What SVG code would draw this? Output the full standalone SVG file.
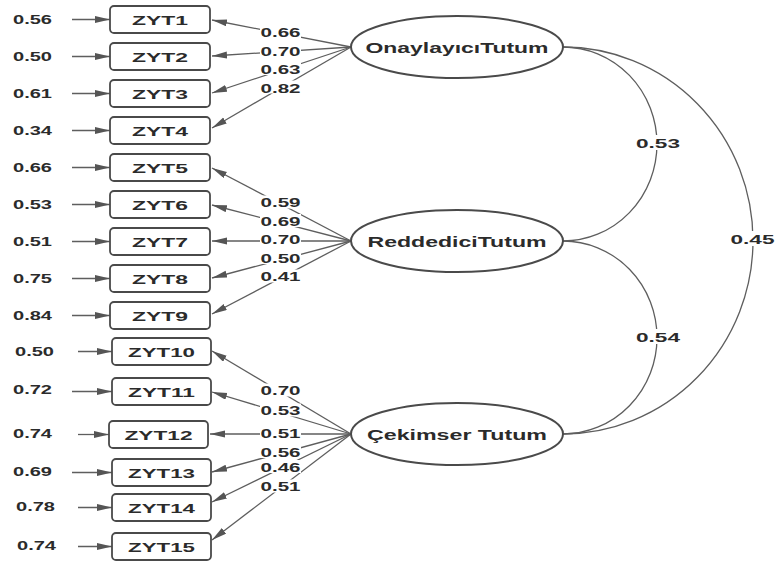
<svg xmlns="http://www.w3.org/2000/svg" width="775" height="562" viewBox="0 0 775 562">
<style>
  text { font-family: "Liberation Sans", Arial, sans-serif; font-weight: bold; fill: #2b2b2b; }
  .num { font-size: 13.5px; }
  .box { fill: #fff; stroke: #4a4a4a; stroke-width: 1.8; }
  .box-t { font-size: 13.5px; text-anchor: middle; }
  .lat { fill: #fff; stroke: #4a4a4a; stroke-width: 2; }
  .lat-t { font-size: 15.5px; text-anchor: middle; }
  .ln { stroke: #5e5e5e; stroke-width: 1.3; fill: none; }
  .arr { marker-end: url(#ah); }
  .bg { fill: #fff; }
  .lbl { font-size: 13.5px; text-anchor: middle; }
</style>
<defs>
  <marker id="ah" markerUnits="userSpaceOnUse" markerWidth="15" markerHeight="8" refX="15" refY="3.5" orient="auto">
    <path d="M0,0 L15,3.5 L0,7 z" fill="#555"/>
  </marker>
</defs>
<rect width="775" height="562" fill="#fff"/>

<g id="connectors">
  <line class="ln arr" x1="72" y1="19.5" x2="110" y2="19.5"/>
  <line class="ln arr" x1="72" y1="56.5" x2="110" y2="56.5"/>
  <line class="ln arr" x1="72" y1="93.5" x2="110" y2="93.5"/>
  <line class="ln arr" x1="72" y1="130.5" x2="110" y2="130.5"/>
  <line class="ln arr" x1="72" y1="167.5" x2="110" y2="167.5"/>
  <line class="ln arr" x1="72" y1="204.5" x2="110" y2="204.5"/>
  <line class="ln arr" x1="72" y1="241.5" x2="110" y2="241.5"/>
  <line class="ln arr" x1="72" y1="278.5" x2="110" y2="278.5"/>
  <line class="ln arr" x1="72" y1="315.5" x2="110" y2="315.5"/>
  <line class="ln arr" x1="78" y1="351.5" x2="112" y2="351.5"/>
  <line class="ln arr" x1="72" y1="391.5" x2="112" y2="391.5"/>
  <line class="ln arr" x1="78" y1="434.5" x2="109" y2="434.5"/>
  <line class="ln arr" x1="72" y1="472.5" x2="112" y2="472.5"/>
  <line class="ln arr" x1="78" y1="507.5" x2="112" y2="507.5"/>
  <line class="ln arr" x1="78" y1="546.5" x2="112" y2="546.5"/>

  <line class="ln arr" x1="351" y1="47" x2="212" y2="20"/>
  <line class="ln arr" x1="351" y1="47" x2="212" y2="56"/>
  <line class="ln arr" x1="351" y1="47" x2="212" y2="93"/>
  <line class="ln arr" x1="351" y1="47" x2="212" y2="128"/>
  <line class="ln arr" x1="351" y1="241" x2="212" y2="168"/>
  <line class="ln arr" x1="351" y1="241" x2="212" y2="205"/>
  <line class="ln arr" x1="351" y1="241" x2="212" y2="241"/>
  <line class="ln arr" x1="351" y1="241" x2="212" y2="278"/>
  <line class="ln arr" x1="351" y1="241" x2="212" y2="314"/>
  <line class="ln arr" x1="351" y1="434" x2="212" y2="351"/>
  <line class="ln arr" x1="351" y1="434" x2="212" y2="392"/>
  <line class="ln arr" x1="351" y1="434" x2="210" y2="434"/>
  <line class="ln arr" x1="351" y1="434" x2="212" y2="472"/>
  <line class="ln arr" x1="351" y1="434" x2="212" y2="502"/>
  <line class="ln arr" x1="351" y1="434" x2="212" y2="540"/>

  <path class="ln" d="M563,47 A94,97 0 0 1 563,241"/>
  <path class="ln" d="M563,241 A94,96.5 0 0 1 563,434"/>
  <path class="ln" d="M563,47 A190,193.5 0 0 1 563,434"/>

  <g>
    <rect class="bg" x="260" y="25" width="41" height="13"/><text class="lbl" x="280.5" y="37" textLength="40" lengthAdjust="spacingAndGlyphs">0.66</text>
    <rect class="bg" x="260" y="43.5" width="41" height="13"/><text class="lbl" x="280.5" y="55.5" textLength="40" lengthAdjust="spacingAndGlyphs">0.70</text>
    <rect class="bg" x="260" y="62" width="41" height="13"/><text class="lbl" x="280.5" y="74" textLength="40" lengthAdjust="spacingAndGlyphs">0.63</text>
    <rect class="bg" x="260" y="80.5" width="41" height="13"/><text class="lbl" x="280.5" y="92.5" textLength="40" lengthAdjust="spacingAndGlyphs">0.82</text>

    <rect class="bg" x="260" y="195.5" width="41" height="13"/><text class="lbl" x="280.5" y="207" textLength="40" lengthAdjust="spacingAndGlyphs">0.59</text>
    <rect class="bg" x="260" y="214" width="41" height="13"/><text class="lbl" x="280.5" y="225.5" textLength="40" lengthAdjust="spacingAndGlyphs">0.69</text>
    <rect class="bg" x="260" y="232.5" width="41" height="13"/><text class="lbl" x="280.5" y="244" textLength="40" lengthAdjust="spacingAndGlyphs">0.70</text>
    <rect class="bg" x="260" y="251" width="41" height="13"/><text class="lbl" x="280.5" y="262.5" textLength="40" lengthAdjust="spacingAndGlyphs">0.50</text>
    <rect class="bg" x="260" y="269.5" width="41" height="13"/><text class="lbl" x="280.5" y="281" textLength="40" lengthAdjust="spacingAndGlyphs">0.41</text>

    <rect class="bg" x="260" y="383.5" width="41" height="13"/><text class="lbl" x="280.5" y="395" textLength="40" lengthAdjust="spacingAndGlyphs">0.70</text>
    <rect class="bg" x="260" y="403.5" width="41" height="13"/><text class="lbl" x="280.5" y="415" textLength="40" lengthAdjust="spacingAndGlyphs">0.53</text>
    <rect class="bg" x="260" y="426" width="41" height="13"/><text class="lbl" x="280.5" y="437.5" textLength="40" lengthAdjust="spacingAndGlyphs">0.51</text>
    <rect class="bg" x="260" y="445" width="41" height="13"/><text class="lbl" x="280.5" y="456.5" textLength="40" lengthAdjust="spacingAndGlyphs">0.56</text>
    <rect class="bg" x="260" y="460" width="41" height="13"/><text class="lbl" x="280.5" y="471.5" textLength="40" lengthAdjust="spacingAndGlyphs">0.46</text>
    <rect class="bg" x="260" y="479.5" width="41" height="13"/><text class="lbl" x="280.5" y="491" textLength="40" lengthAdjust="spacingAndGlyphs">0.51</text>
  </g>

  <g>
    <rect class="bg" x="636" y="135" width="45" height="15"/><text class="lbl" x="658" y="147.5" textLength="44" lengthAdjust="spacingAndGlyphs">0.53</text>
    <rect class="bg" x="636" y="329" width="45" height="15"/><text class="lbl" x="658" y="341.5" textLength="44" lengthAdjust="spacingAndGlyphs">0.54</text>
    <rect class="bg" x="730" y="231" width="45" height="15"/><text class="lbl" x="752.5" y="243.5" textLength="44" lengthAdjust="spacingAndGlyphs">0.45</text>
  </g>
</g>

<g id="errors">
  <text class="num" x="13" y="24" textLength="39" lengthAdjust="spacingAndGlyphs">0.56</text>
  <text class="num" x="13" y="61" textLength="39" lengthAdjust="spacingAndGlyphs">0.50</text>
  <text class="num" x="13" y="98" textLength="39" lengthAdjust="spacingAndGlyphs">0.61</text>
  <text class="num" x="13" y="135" textLength="39" lengthAdjust="spacingAndGlyphs">0.34</text>
  <text class="num" x="13" y="172" textLength="39" lengthAdjust="spacingAndGlyphs">0.66</text>
  <text class="num" x="13" y="209" textLength="39" lengthAdjust="spacingAndGlyphs">0.53</text>
  <text class="num" x="13" y="246" textLength="39" lengthAdjust="spacingAndGlyphs">0.51</text>
  <text class="num" x="13" y="283" textLength="39" lengthAdjust="spacingAndGlyphs">0.75</text>
  <text class="num" x="13" y="320" textLength="39" lengthAdjust="spacingAndGlyphs">0.84</text>
  <text class="num" x="15" y="355.5" textLength="39" lengthAdjust="spacingAndGlyphs">0.50</text>
  <text class="num" x="13" y="394" textLength="39" lengthAdjust="spacingAndGlyphs">0.72</text>
  <text class="num" x="13" y="437.5" textLength="39" lengthAdjust="spacingAndGlyphs">0.74</text>
  <text class="num" x="13" y="476" textLength="39" lengthAdjust="spacingAndGlyphs">0.69</text>
  <text class="num" x="16" y="511" textLength="39" lengthAdjust="spacingAndGlyphs">0.78</text>
  <text class="num" x="17" y="550" textLength="39" lengthAdjust="spacingAndGlyphs">0.74</text>
</g>

<g id="ZYT1"><rect class="box" x="110" y="6" width="100" height="27" rx="4"/><text class="box-t" x="160" y="24.5" textLength="56" lengthAdjust="spacingAndGlyphs">ZYT1</text></g>
<g id="ZYT2"><rect class="box" x="110" y="43" width="100" height="27" rx="4"/><text class="box-t" x="160" y="61.5" textLength="56" lengthAdjust="spacingAndGlyphs">ZYT2</text></g>
<g id="ZYT3"><rect class="box" x="110" y="80" width="100" height="27" rx="4"/><text class="box-t" x="160" y="98.5" textLength="56" lengthAdjust="spacingAndGlyphs">ZYT3</text></g>
<g id="ZYT4"><rect class="box" x="110" y="117" width="100" height="27" rx="4"/><text class="box-t" x="160" y="135.5" textLength="56" lengthAdjust="spacingAndGlyphs">ZYT4</text></g>
<g id="ZYT5"><rect class="box" x="110" y="154" width="100" height="27" rx="4"/><text class="box-t" x="160" y="172.5" textLength="56" lengthAdjust="spacingAndGlyphs">ZYT5</text></g>
<g id="ZYT6"><rect class="box" x="110" y="191" width="100" height="27" rx="4"/><text class="box-t" x="160" y="209.5" textLength="56" lengthAdjust="spacingAndGlyphs">ZYT6</text></g>
<g id="ZYT7"><rect class="box" x="110" y="228" width="100" height="27" rx="4"/><text class="box-t" x="160" y="246.5" textLength="56" lengthAdjust="spacingAndGlyphs">ZYT7</text></g>
<g id="ZYT8"><rect class="box" x="110" y="265" width="100" height="27" rx="4"/><text class="box-t" x="160" y="283.5" textLength="56" lengthAdjust="spacingAndGlyphs">ZYT8</text></g>
<g id="ZYT9"><rect class="box" x="110" y="302" width="100" height="27" rx="4"/><text class="box-t" x="160" y="320.5" textLength="56" lengthAdjust="spacingAndGlyphs">ZYT9</text></g>
<g id="ZYT10"><rect class="box" x="112" y="338" width="99" height="27" rx="4"/><text class="box-t" x="161.5" y="356.5" textLength="67" lengthAdjust="spacingAndGlyphs">ZYT10</text></g>
<g id="ZYT11"><rect class="box" x="112" y="378" width="99" height="27" rx="4"/><text class="box-t" x="161.5" y="396.5" textLength="67" lengthAdjust="spacingAndGlyphs">ZYT11</text></g>
<g id="ZYT12"><rect class="box" x="109" y="421" width="99" height="27" rx="4"/><text class="box-t" x="158.5" y="439.5" textLength="68" lengthAdjust="spacingAndGlyphs">ZYT12</text></g>
<g id="ZYT13"><rect class="box" x="112" y="459" width="99" height="27" rx="4"/><text class="box-t" x="161.5" y="477.5" textLength="67" lengthAdjust="spacingAndGlyphs">ZYT13</text></g>
<g id="ZYT14"><rect class="box" x="112" y="494" width="99" height="27" rx="4"/><text class="box-t" x="161.5" y="512.5" textLength="67" lengthAdjust="spacingAndGlyphs">ZYT14</text></g>
<g id="ZYT15"><rect class="box" x="112" y="533" width="99" height="27" rx="4"/><text class="box-t" x="161.5" y="551.5" textLength="67" lengthAdjust="spacingAndGlyphs">ZYT15</text></g>

<g id="OnaylayiciTutum"><ellipse class="lat" cx="457" cy="47" rx="106" ry="31"/><text class="lat-t" x="457" y="52.5" textLength="183" lengthAdjust="spacingAndGlyphs">OnaylayıcıTutum</text></g>
<g id="ReddediciTutum"><ellipse class="lat" cx="457" cy="241" rx="106" ry="31"/><text class="lat-t" x="457" y="246.5" textLength="179" lengthAdjust="spacingAndGlyphs">ReddediciTutum</text></g>
<g id="CekimserTutum"><ellipse class="lat" cx="457" cy="434" rx="106" ry="31"/><text class="lat-t" x="457" y="439.5" textLength="180" lengthAdjust="spacingAndGlyphs">Çekimser Tutum</text></g>
</svg>
